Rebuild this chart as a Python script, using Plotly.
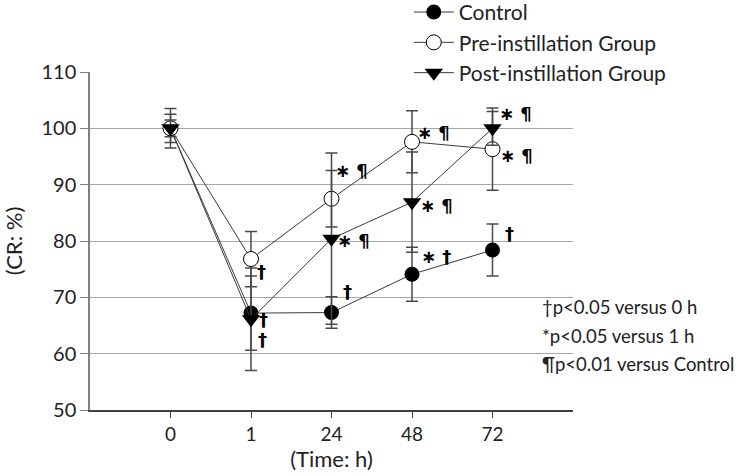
import plotly.graph_objects as go

# time points (category labels)
times = ['0', '1', '24', '48', '72']
x_idx = [0, 1, 2, 3, 4]

# CR (%) mean and SD per group
control_mean = [100, 67.2, 67.3, 74.1, 78.4]
control_sd = [3.5, 6.6, 2.8, 4.8, 4.6]
pre_mean = [100, 76.8, 87.5, 97.6, 96.3]
pre_sd = [2.5, 4.9, 5.0, 5.5, 7.3]
post_mean = [100, 66.1, 80.4, 86.9, 100]
post_sd = [1.5, 9.1, 15.2, 8.9, 3.0]

# significance marks: (time index, y value, text)
sig_marks = [
    (1, 74.5, '†'), (1, 66.0, '†'), (1, 62.6, '†'),
    (2, 92.5, '∗ ¶'), (2, 80.1, '∗ ¶'), (2, 71.0, '†'),
    (3, 99.3, '∗ ¶'), (3, 86.3, '∗ ¶'), (3, 77.2, '∗ †'),
    (4, 102.6, '∗ ¶'), (4, 95.2, '∗ ¶'), (4, 81.4, '†'),
]
sig_shift = [10, 12, 11, 7, 9, 15, 9, 12, 13, 10, 11, 16]

notes = ['†p&lt;0.05 versus 0 h', '*p&lt;0.05 versus 1 h', '¶p&lt;0.01 versus Control']
notes_y = [68.2, 63.2, 58.1]

font_main = 'Lato, Open Sans, sans-serif'
line_col = '#3a3a3a'
err_col = '#4a4a4a'


def err(sd):
    return dict(type='data', array=sd, color=err_col, thickness=1.5, width=6)


fig = go.Figure()
fig.add_trace(go.Scatter(x=x_idx, y=control_mean, error_y=err(control_sd), name='Control',
                         mode='lines+markers', line=dict(color=line_col, width=1),
                         marker=dict(symbol='circle', size=15, color='black')))
fig.add_trace(go.Scatter(x=x_idx, y=pre_mean, error_y=err(pre_sd), name='Pre-instillation Group',
                         mode='lines+markers', line=dict(color=line_col, width=1),
                         marker=dict(symbol='circle', size=15, color='white',
                                     line=dict(color='black', width=1))))
fig.add_trace(go.Scatter(x=x_idx, y=post_mean, error_y=err(post_sd), name='Post-instillation Group',
                         mode='lines+markers', line=dict(color=line_col, width=1),
                         marker=dict(symbol='triangle-down', size=16, color='black')))

for (xi, yv, txt), sh in zip(sig_marks, sig_shift):
    fig.add_annotation(x=xi, y=yv, text=txt, showarrow=False,
                       xanchor='left', xshift=sh - 6,
                       font=dict(size=18, color='black', family='DejaVu Sans, sans-serif',
                                 weight='bold'))

for txt, yv in zip(notes, notes_y):
    fig.add_annotation(x=0.932, xref='paper', y=yv, yref='y', text=txt, showarrow=False,
                       xanchor='left', font=dict(size=18.5, color='#222'))

fig.update_xaxes(range=[-1, 5], tickvals=x_idx, ticktext=times, showgrid=False, zeroline=False,
                 showline=True, linecolor='#404040', linewidth=1.5, ticks='outside',
                 ticklen=6, tickcolor='#404040',
                 title=dict(text='(Time: h)', font=dict(size=22), standoff=4),
                 tickfont=dict(size=19))
fig.update_yaxes(range=[50, 110], dtick=10, showgrid=True, gridcolor='#a6a6a6', gridwidth=1,
                 zeroline=False, showline=True, linecolor='#808080', linewidth=1.5,
                 ticks='outside', ticklen=8, tickcolor='#808080',
                 title=dict(text='(CR: %)', font=dict(size=22), standoff=20),
                 tickfont=dict(size=20))

fig.update_layout(width=740, height=476,
                  margin=dict(l=90, r=167, t=72, b=66, autoexpand=False),
                  paper_bgcolor='white', plot_bgcolor='white',
                  font=dict(family=font_main, color='#222'),
                  legend=dict(x=0.66, y=1.237, xanchor='left', yanchor='top',
                              bgcolor='rgba(0,0,0,0)', font=dict(size=21),
                              itemwidth=40, tracegroupgap=0),
                  showlegend=True)

# drop the default page margin so the figure sits at the window's corner
fig.write_html('out.html', config={'displayModeBar': False},
               post_script="document.body.style.margin='0';")
